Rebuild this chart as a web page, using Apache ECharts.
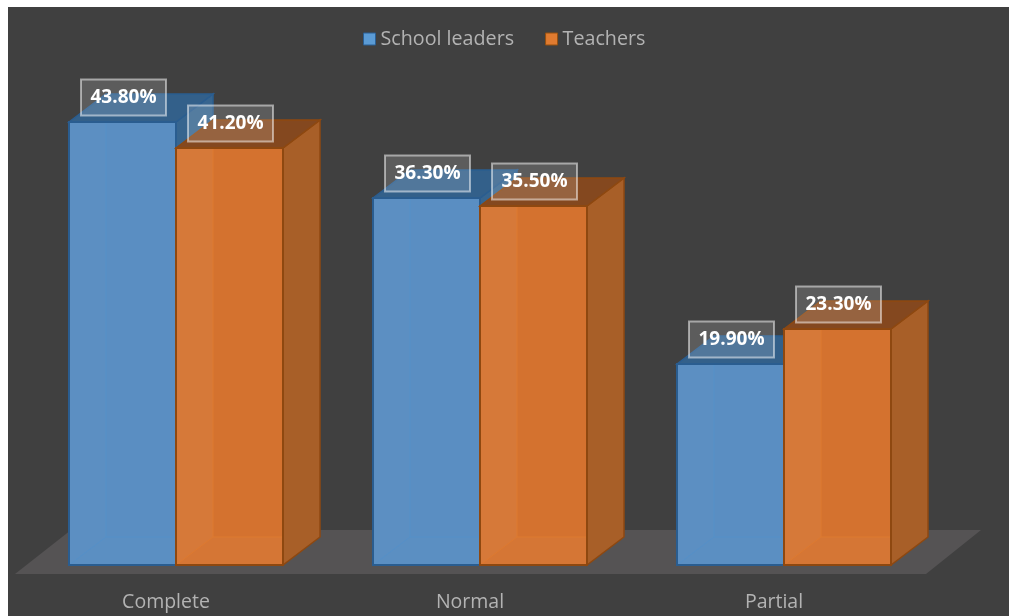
<!DOCTYPE html>
<html>
<head>
    <meta charset="utf-8">
    <title>Adoption by role</title>
    <script src="https://cdn.jsdelivr.net/npm/echarts@6/dist/echarts.min.js"></script>
    <style>
        html, body { margin: 0; padding: 0; background: #fff; }
        #chart { width: 1009px; height: 616px; }
    </style>
</head>
<body>
    <div id="chart"></div>
    <script>
        var categories = ['Complete', 'Normal', 'Partial'];
        var schoolLeaders = [43.8, 36.3, 19.9];
        var teachers = [41.2, 35.5, 23.3];

        var DEPTH_X = 37, DEPTH_Y = 28, BAR_W = 107, SHIFT = 10;

        function poly(points, fill, stroke, width) {
            return {
                type: 'polygon',
                shape: { points: points },
                style: { fill: fill, stroke: stroke || null, lineWidth: width || 0, lineJoin: 'miter' }
            };
        }

        function seam(x1, y1, x2, y2, color) {
            return {
                type: 'line',
                shape: { x1: x1, y1: y1, x2: x2, y2: y2 },
                style: { stroke: color, lineWidth: 1 }
            };
        }

        // one 3D column, side 0 sits left of the category centre, side 1 right of it
        function barRenderer(side, c) {
            return function(params, api) {
                var base = api.coord([api.value(0), 0]);
                var top = api.coord([api.value(0), api.value(1)]);
                var x0 = Math.round(side === 0 ? base[0] + SHIFT - BAR_W : base[0] + SHIFT);
                var x1 = x0 + BAR_W;
                var y0 = Math.round(top[1]), y1 = Math.round(base[1]);
                var dx = DEPTH_X, dy = DEPTH_Y;
                return {
                    type: 'group',
                    children: [
                        poly([[x1, y0], [x1 + dx, y0 - dy], [x1 + dx, y1 - dy], [x1, y1]], c.side, c.edge, 1.5),
                        poly([[x0, y0], [x0 + dx, y0 - dy], [x1 + dx, y0 - dy], [x1, y0]], c.top, c.edge, 1.5),
                        {
                            type: 'rect',
                            shape: { x: x0, y: y0, width: BAR_W, height: y1 - y0 },
                            style: { fill: c.front }
                        },
                        // inside faces showing through the front
                        poly([[x0, y0], [x0 + dx, y0], [x0 + dx, y1 - dy], [x0, y1]], c.wall),
                        poly([[x0, y1], [x0 + dx, y1 - dy], [x1, y1 - dy], [x1, y1]], c.floor),
                        seam(x0 + dx, y0, x0 + dx, y1 - dy, c.inner),
                        seam(x0 + dx, y1 - dy, x1, y1 - dy, c.inner),
                        seam(x0, y1, x0 + dx, y1 - dy, c.inner),
                        {
                            type: 'rect',
                            shape: { x: x0, y: y0, width: BAR_W, height: y1 - y0 },
                            style: { fill: null, stroke: c.edge, lineWidth: 2 }
                        },
                        {
                            type: 'rect',
                            shape: { x: x0 + 12, y: y0 - 42.5, width: 85, height: 36 },
                            style: { fill: 'rgba(255,255,255,0.15)', stroke: 'rgba(255,255,255,0.5)', lineWidth: 2 },
                            z2: 10
                        },
                        {
                            type: 'text',
                            z2: 11,
                            style: {
                                text: api.value(1).toFixed(2) + '%',
                                x: x0 + 54.5,
                                y: y0 - 24.5,
                                align: 'center',
                                verticalAlign: 'middle',
                                fill: '#fff',
                                font: 'bold 19px "Open Sans"'
                            }
                        }
                    ]
                };
            };
        }

        var blue = {
            front: '#5a8ec2', wall: 'rgba(255,255,255,0.015)', floor: 'rgba(255,255,255,0.01)', inner: '#5590c8',
            side: '#37658f', top: '#33608a', edge: '#2a5d90'
        };
        var orange = {
            front: '#d4722f', wall: 'rgba(255,255,255,0.05)', floor: 'rgba(255,255,255,0.03)', inner: '#de7a30',
            side: '#a85f28', top: '#84481f', edge: '#8e4810'
        };

        var chart = echarts.init(document.getElementById('chart'));
        chart.setOption({
            animation: false,
            backgroundColor: '#fff',
            graphic: [{
                type: 'rect',
                z: -10,
                shape: { x: 8, y: 7, width: 1001, height: 609 },
                style: { fill: '#404040' }
            }, {
                type: 'polygon',
                z: -9,
                shape: { points: [[15, 574], [926, 574], [981, 530], [71, 530]] },
                style: { fill: '#555354' }
            }],
            legend: {
                top: 24,
                left: 358,
                itemWidth: 12,
                itemHeight: 12,
                itemGap: 31,
                icon: 'rect',
                textStyle: { color: '#b3b3b3', fontFamily: '"Open Sans"', fontSize: 19.7 },
                data: [
                    { name: 'School leaders', itemStyle: { color: '#5b9bd5', borderColor: '#2a5f94', borderWidth: 1 } },
                    { name: 'Teachers', itemStyle: { color: '#e07b30', borderColor: '#96500f', borderWidth: 1 } }
                ]
            },
            grid: { left: 14, right: 83, top: 59.5, bottom: 51 },
            xAxis: {
                type: 'category',
                data: categories,
                axisLine: { show: false },
                axisTick: { show: false },
                axisLabel: { color: '#b3b3b3', fontFamily: '"Open Sans"', fontSize: 19.5, margin: 27 }
            },
            yAxis: { type: 'value', min: 0, max: 50, show: false },
            series: [{
                name: 'School leaders',
                type: 'custom',
                renderItem: barRenderer(0, blue),
                encode: { x: 0, y: 1 },
                data: categories.map(function(c, i) { return [i, schoolLeaders[i]]; })
            }, {
                name: 'Teachers',
                type: 'custom',
                renderItem: barRenderer(1, orange),
                encode: { x: 0, y: 1 },
                data: categories.map(function(c, i) { return [i, teachers[i]]; })
            }]
        });
    </script>
</body>
</html>
